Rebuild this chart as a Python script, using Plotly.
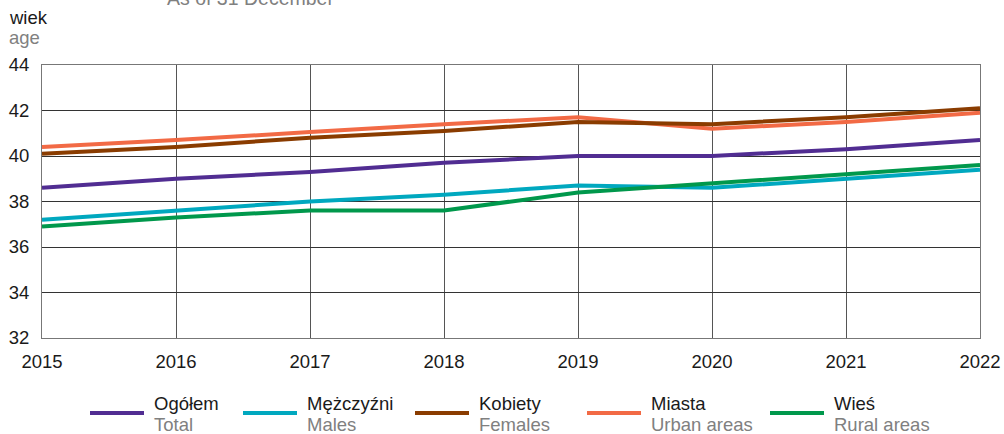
import plotly.graph_objects as go

years = [2015, 2016, 2017, 2018, 2019, 2020, 2021, 2022]
total = [38.6, 39.0, 39.3, 39.7, 40.0, 40.0, 40.3, 40.7]
males = [37.2, 37.6, 38.0, 38.3, 38.7, 38.6, 39.0, 39.4]
females = [40.1, 40.4, 40.8, 41.1, 41.5, 41.4, 41.7, 42.1]
urban = [40.4, 40.7, 41.05, 41.4, 41.7, 41.2, 41.5, 41.9]
rural = [36.9, 37.3, 37.6, 37.6, 38.4, 38.8, 39.2, 39.6]

names_pl = ["Ogółem", "Mężczyźni", "Kobiety", "Miasta", "Wieś"]
names_en = ["Total", "Males", "Females", "Urban areas", "Rural areas"]
y_ticks = [32, 34, 36, 38, 40, 42, 44]

series = [total, males, females, urban, rural]
colors = ["#512D92", "#00A8BF", "#8A3C00", "#F26A45", "#00984C"]
order = [0, 1, 4, 3, 2]

W, H = 1004, 434
L, R, T, B = 42, 24, 65, 96
PW = W - L - R
PH = H - T - B
FONT = "Liberation Sans, Arial, sans-serif"
FS = 18.5

fig = go.Figure()
for i in order:
    fig.add_trace(go.Scatter(
        x=years, y=series[i], mode="lines",
        line=dict(color=colors[i], width=4),
        name=names_pl[i], showlegend=False,
    ))

def px_x(px):
    return (px - L) / PW

def px_y(py):
    return (H - B - py) / PH

shapes = []
annotations = []
leg_line_x = [90, 243, 415, 587, 770]
for i in range(5):
    x0 = leg_line_x[i]
    shapes.append(dict(type="line", xref="paper", yref="paper",
                       x0=px_x(x0), x1=px_x(x0 + 54), y0=px_y(413), y1=px_y(413),
                       line=dict(color=colors[i], width=4)))
    annotations.append(dict(xref="paper", yref="paper", x=px_x(x0 + 62), y=px_y(403),
                            text=names_pl[i], showarrow=False, xanchor="left", yanchor="middle",
                            font=dict(family=FONT, size=FS, color="#1a1a1a")))
    annotations.append(dict(xref="paper", yref="paper", x=px_x(x0 + 62), y=px_y(424),
                            text=names_en[i], showarrow=False, xanchor="left", yanchor="middle",
                            font=dict(family=FONT, size=FS, color="#808080")))

annotations.append(dict(xref="paper", yref="paper", x=px_x(7), y=px_y(18),
                        text="wiek", showarrow=False, xanchor="left", yanchor="middle",
                        font=dict(family=FONT, size=FS, color="#1a1a1a")))
annotations.append(dict(xref="paper", yref="paper", x=px_x(7), y=px_y(38),
                        text="age", showarrow=False, xanchor="left", yanchor="middle",
                        font=dict(family=FONT, size=FS, color="#808080")))
annotations.append(dict(xref="paper", yref="paper", x=px_x(250), y=px_y(-2),
                        text="As of 31 December", showarrow=False, xanchor="center", yanchor="middle",
                        font=dict(family=FONT, size=19.5, color="#808080")))

fig.update_layout(
    width=W, height=H,
    margin=dict(l=L, r=R, t=T, b=B, autoexpand=False),
    paper_bgcolor="white", plot_bgcolor="white",
    font=dict(family=FONT, size=FS, color="#1a1a1a"),
    shapes=shapes, annotations=annotations,
    showlegend=False,
)
fig.update_xaxes(
    range=[2015, 2022], tickvals=years, ticktext=[str(y) for y in years],
    showgrid=True, gridcolor="#555555", gridwidth=1,
    showline=True, linecolor="#777777", linewidth=1, mirror=True,
    zeroline=False, ticks="outside", ticklen=7, tickcolor="rgba(0,0,0,0)",
    tickfont=dict(size=FS, color="#1a1a1a"), automargin=False,
)
fig.update_yaxes(
    range=[32, 44], tickvals=y_ticks,
    showgrid=True, gridcolor="#333333", gridwidth=1,
    showline=True, linecolor="#777777", linewidth=1, mirror=True,
    zeroline=False, ticks="outside", ticklen=8, tickcolor="rgba(0,0,0,0)",
    tickfont=dict(size=FS, color="#1a1a1a"), automargin=False,
)

fig.write_html("out.html", config={"displayModeBar": False},
               post_script="document.body.style.margin='0';")
